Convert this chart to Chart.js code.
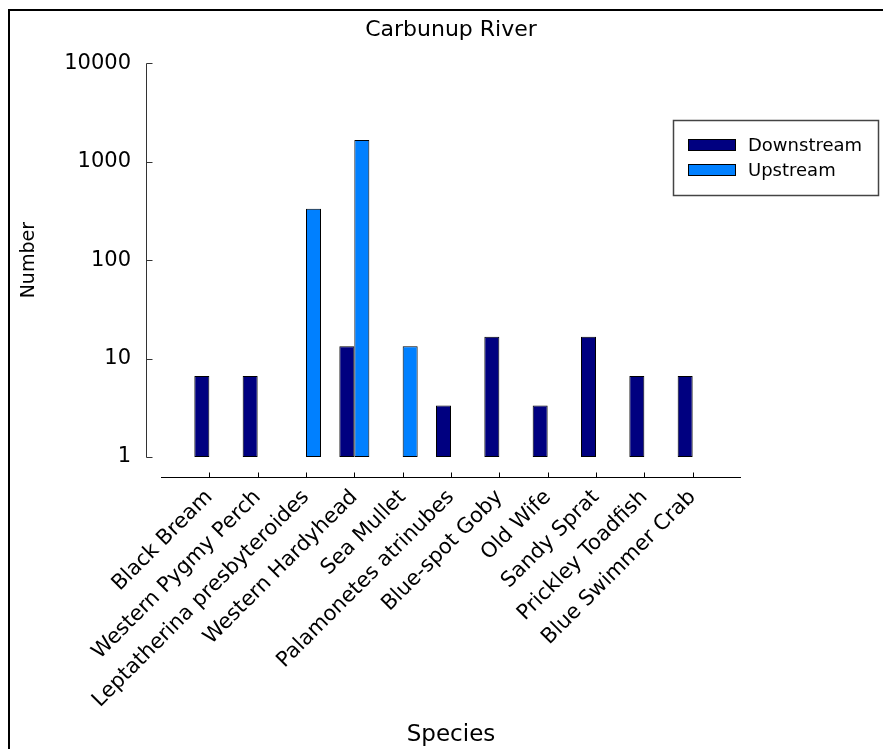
<!DOCTYPE html>
<html>
<head>
<meta charset="utf-8">
<title>Carbunup River</title>
<script src="https://cdn.jsdelivr.net/npm/chart.js@4"></script>
<style>
  html, body { margin: 0; padding: 0; background: #fff; }
  canvas { display: block; }
</style>
</head>
<body>
<canvas id="grafica" width="883" height="749"></canvas>
<script>
// valores (promedios, escala log)
const species = [
  'Black Bream', 'Western Pygmy Perch', 'Leptatherina presbyteroides',
  'Western Hardyhead', 'Sea Mullet', 'Palamonetes atrinubes',
  'Blue-spot Goby', 'Old Wife', 'Sandy Sprat', 'Prickley Toadfish',
  'Blue Swimmer Crab'
];
const downstream = [6.67, 6.67, null, 13.33, null, 3.33, 16.67, 3.33, 16.67, 6.67, 6.67];
const upstream = [null, null, 333.3, 1666.7, 13.33, null, null, null, null, null, null];
const yTicks = [1, 10, 100, 1000, 10000];
const seriesNames = ['Downstream', 'Upstream'];
const seriesColors = ['#000080', '#0080ff'];

const FONT = "'DejaVu Sans', sans-serif";

// ejes separados del area de datos (estilo SigmaPlot)
const ejesSeparados = {
  id: 'ejesSeparados',
  afterDraw(chart) {
    const { ctx, chartArea, scales: { x, y } } = chart;
    ctx.save();
    ctx.strokeStyle = '#333';
    ctx.lineWidth = 1;
    // eje Y
    const yx = chartArea.left - 15 + 0.5;
    ctx.beginPath();
    ctx.moveTo(yx, Math.round(y.getPixelForValue(yTicks[0])) + 0.5);
    ctx.lineTo(yx, Math.round(y.getPixelForValue(yTicks[yTicks.length - 1])) + 0.5);
    for (const t of yTicks) {
      const py = Math.round(y.getPixelForValue(t)) + 0.5;
      ctx.moveTo(yx, py);
      ctx.lineTo(yx + 6, py);
    }
    ctx.stroke();
    // eje X
    ctx.strokeStyle = '#000';
    const xy = chartArea.bottom + 20 + 0.5;
    ctx.beginPath();
    ctx.moveTo(chartArea.left, xy);
    ctx.lineTo(chartArea.right, xy);
    for (const t of x.ticks) {
      const px = Math.round(x.getPixelForValue(t.value)) + 0.5;
      ctx.moveTo(px, xy);
      ctx.lineTo(px, xy - 5);
    }
    ctx.stroke();
    ctx.restore();
  }
};

// leyenda con recuadro arriba a la derecha
const leyenda = {
  id: 'leyenda',
  afterDraw(chart) {
    const ctx = chart.ctx;
    ctx.save();
    ctx.lineWidth = 1.5;
    ctx.strokeStyle = '#444';
    ctx.strokeRect(673.5, 120.5, 205, 75);
    ctx.font = '18px ' + FONT;
    ctx.textBaseline = 'middle';
    chart.data.datasets.forEach((ds, i) => {
      const cy = 145 + i * 25;
      ctx.fillStyle = ds.backgroundColor;
      ctx.fillRect(688, cy - 6, 48, 12);
      ctx.strokeStyle = '#000';
      ctx.lineWidth = 1;
      ctx.strokeRect(688.5, cy - 5.5, 47, 11);
      ctx.fillStyle = '#000';
      ctx.fillText(ds.label, 748, cy + 1);
    });
    ctx.restore();
  }
};

// marco de la figura (solo izquierda y arriba)
const marco = {
  id: 'marco',
  afterDraw(chart) {
    const ctx = chart.ctx;
    ctx.save();
    ctx.fillStyle = '#000';
    ctx.fillRect(8, 9, 2, 740);
    ctx.fillRect(8, 9, 875, 2);
    ctx.restore();
  }
};

const barra = {
  borderColor: '#000',
  borderWidth: 1,
  borderSkipped: false,
  barThickness: 15,
  inflateAmount: 0
};

new Chart(document.getElementById('grafica'), {
  type: 'bar',
  data: {
    labels: species.map((s, i) => i),
    datasets: [
      Object.assign({ label: seriesNames[0], data: downstream, backgroundColor: seriesColors[0] }, barra),
      Object.assign({ label: seriesNames[1], data: upstream, backgroundColor: seriesColors[1] }, barra)
    ]
  },
  options: {
    responsive: false,
    animation: false,
    devicePixelRatio: 1,
    layout: { padding: { left: 0, right: 142, top: 0, bottom: 0 } },
    plugins: {
      legend: { display: false },
      tooltip: { enabled: false },
      title: {
        display: true,
        text: 'Carbunup River',
        fullSize: false,
        color: '#000',
        font: { family: FONT, size: 22, weight: 'normal' },
        padding: { top: 17, bottom: 20 }
      }
    },
    scales: {
      x: {
        type: 'linear',
        min: -1,
        max: 11,
        offset: false,
        position: 'bottom',
        grid: { display: false, drawTicks: false },
        border: { display: false },
        afterBuildTicks: (scale) => { scale.ticks = species.map((s, i) => ({ value: i })); },
        afterFit: (scale) => { scale.height = 292; },
        ticks: {
          autoSkip: false,
          minRotation: 45,
          maxRotation: 45,
          padding: 28,
          color: '#000',
          font: { family: FONT, size: 21 },
          callback: (v) => species[v]
        },
        title: {
          display: true,
          text: 'Species',
          color: '#000',
          font: { family: FONT, size: 23 },
          padding: 0
        }
      },
      y: {
        type: 'logarithmic',
        min: 1,
        max: 10000,
        grid: { display: false, drawTicks: false },
        border: { display: false },
        afterBuildTicks: (scale) => { scale.ticks = yTicks.map(v => ({ value: v })); },
        afterFit: (scale) => { scale.width = 161; },
        ticks: {
          padding: 30,
          color: '#000',
          font: { family: FONT, size: 21 },
          callback: (v) => String(v)
        },
        title: {
          display: true,
          text: 'Number',
          color: '#000',
          font: { family: FONT, size: 19 },
          padding: { top: 18, bottom: 0 }
        }
      }
    }
  },
  plugins: [ejesSeparados, leyenda, marco]
});
</script>
</body>
</html>
